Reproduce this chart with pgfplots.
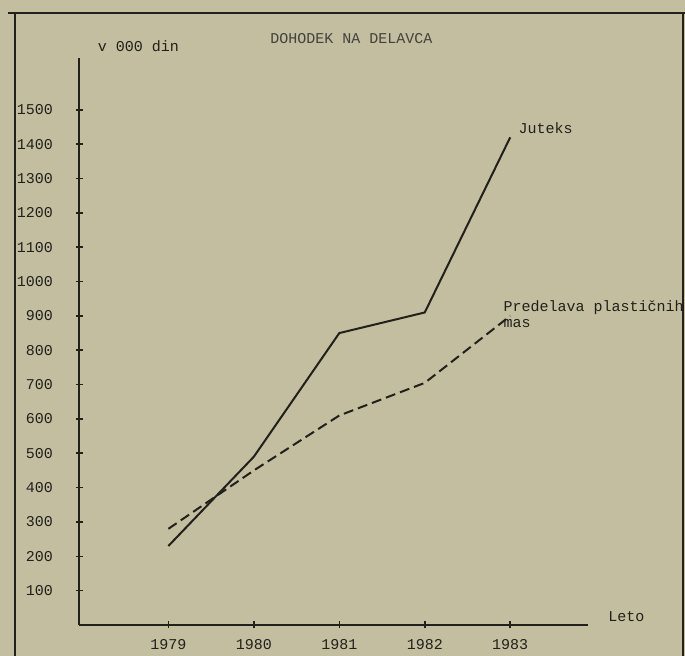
\documentclass[border=0pt]{standalone}
\usepackage{pgfplots}
\pgfplotsset{compat=1.18}
\usepackage{fontspec}
\setmainfont{Liberation Mono}
\setmonofont{Liberation Mono}
\definecolor{paper}{RGB}{194,190,159}
\definecolor{ink}{RGB}{34,32,27}
\begin{document}
\begin{tikzpicture}[font=\fontsize{7.5}{8}\selectfont]
\fill[paper] (-39.75pt,-15.5pt) rectangle (302.75pt,312.5pt);
\draw[ink, line width=1.1pt] (-32.25pt,-15.5pt) -- (-32.25pt,306pt);
\draw[ink, line width=0.9pt] (-35.75pt,306pt) -- (302.75pt,306pt);
\draw[ink, line width=1pt] (301.75pt,-15.5pt) -- (301.75pt,306pt);
\begin{axis}[
  at={(0pt,0pt)}, anchor=south west,
  scale only axis, width=254.25pt, height=283.5pt,
  xmin=1977.96, xmax=1983.91, ymin=0, ymax=1651,
  axis x line*=bottom, axis y line*=left,
  axis line style={ink, line width=1pt, -},
  xtick={1979,1980,1981,1982,1983},
  ytick={100,200,...,1500},
  tick align=center, major tick length=3.5pt,
  tick style={ink, line width=0.8pt},
  /pgf/number format/assume math mode=true,
  /pgf/number format/set thousands separator={},
  ticklabel style={font=\fontsize{7.5}{8}\selectfont, text=ink},
  yticklabel style={xshift=-8pt},
  xticklabel style={yshift=-2pt},
  clip=false,
]
\addplot[ink, line width=1pt] coordinates {
  (1979,230) (1980,490) (1981,850) (1982,910) (1983,1420)
};
\addplot[ink, line width=1pt, dash pattern=on 5pt off 2.5pt] coordinates {
  (1979,280) (1980,450) (1981,610) (1982,705) (1983,900)
};
\node[anchor=west, text=ink, inner sep=0pt] at (axis cs:1983,1420) [xshift=4pt, yshift=4.5pt] {Juteks};
\node[anchor=west, text=ink, inner sep=0pt, align=left] at (axis cs:1983,905) [xshift=-3.5pt] {Predelava plastičnih\\mas};
\node[anchor=west, text=ink, inner sep=0pt] at (rel axis cs:1,0) [xshift=10pt, yshift=4pt] {Leto};
\node[anchor=west, text=ink, inner sep=0pt] at (rel axis cs:0,1) [xshift=9pt, yshift=6pt] {v 000 din};
\end{axis}
\node[text=ink!85, inner sep=0pt] at (136pt,293pt) {DOHODEK NA DELAVCA};
\pgfresetboundingbox
\path (-39.75pt,-15.5pt) rectangle (302.75pt,312.5pt);
\end{tikzpicture}
\end{document}
